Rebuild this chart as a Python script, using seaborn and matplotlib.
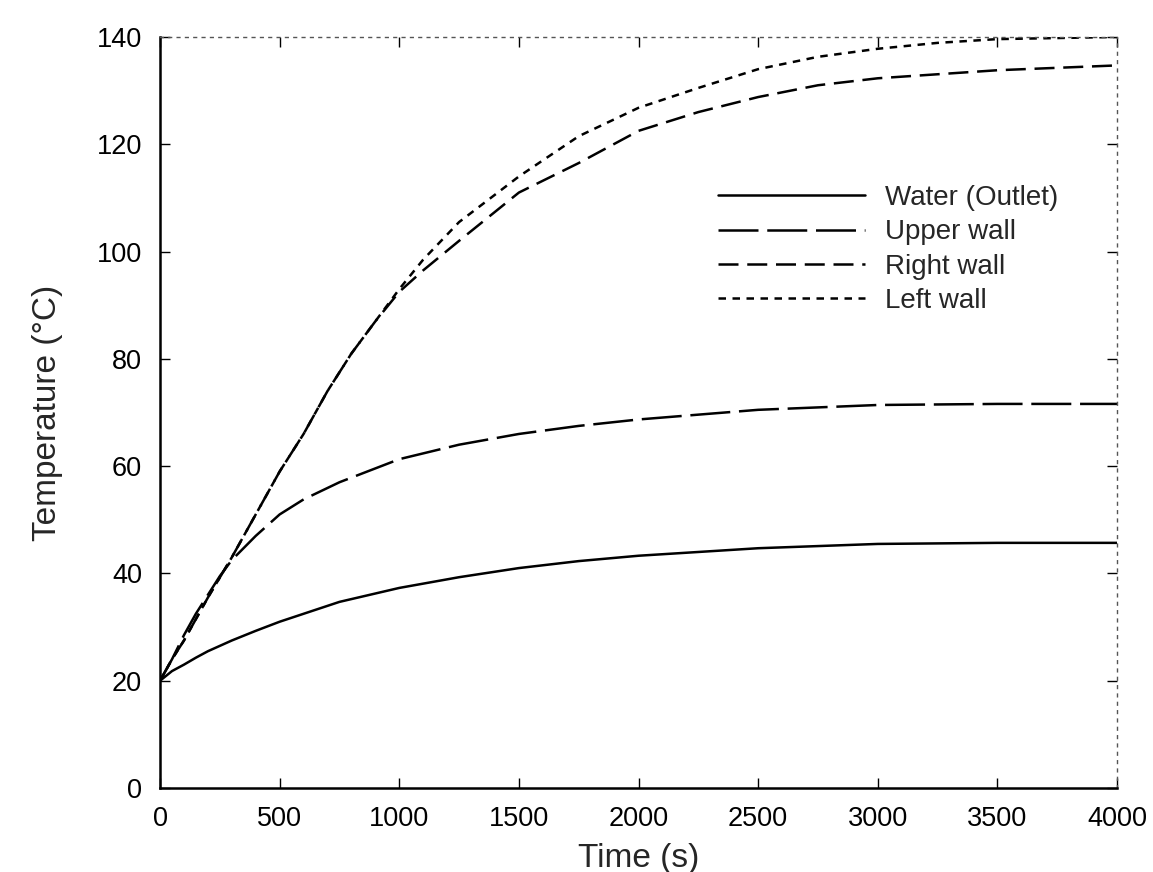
import numpy as np
import pandas as pd
import matplotlib
matplotlib.use("Agg")
import matplotlib.pyplot as plt
import seaborn as sns

sns.set_style("ticks")
plt.rcParams['font.family'] = ['Liberation Sans', 'DejaVu Sans']

# ---- data ----
t_water = [0, 50, 100, 150, 200, 300, 400, 500, 750, 1000, 1250, 1500, 1750, 2000, 2500, 3000, 3500, 4000]
T_water = [20, 21.8, 23, 24.3, 25.5, 27.5, 29.3, 31, 34.7, 37.3, 39.3, 41, 42.3, 43.3, 44.7, 45.5, 45.7, 45.7]

t_upper = [0, 50, 100, 150, 200, 250, 300, 400, 500, 600, 750, 1000, 1250, 1500, 1750, 2000, 2500, 3000, 3500, 4000]
T_upper = [20, 24, 28.5, 32.5, 36, 39.5, 42.5, 47, 51, 53.8, 57, 61.3, 64, 66, 67.5, 68.7, 70.5, 71.4, 71.6, 71.6]

t_right = [0, 50, 100, 150, 200, 300, 400, 500, 600, 700, 800, 900, 1000, 1100, 1250, 1500, 1750, 2000, 2250, 2500, 2750, 3000, 3500, 4000]
T_right = [20, 24, 27.5, 31.5, 35.5, 43, 51, 59, 66, 74, 81, 87, 92.5, 96.5, 102, 111, 116.5, 122.5, 126, 128.8, 131, 132.3, 133.8, 134.7]

t_left = [0, 50, 100, 150, 200, 300, 400, 500, 600, 700, 800, 900, 1000, 1100, 1250, 1500, 1750, 2000, 2250, 2500, 2750, 3000, 3250, 3500, 4000]
T_left = [20, 24, 27.5, 31.5, 35.5, 43, 51, 59, 66, 74, 81, 87, 93, 98.5, 105.5, 114, 121.5, 126.8, 130.5, 134, 136.3, 137.8, 138.9, 139.6, 140]

labels = ["Water (Outlet)", "Upper wall", "Right wall", "Left wall"]
x_ticks = [0, 500, 1000, 1500, 2000, 2500, 3000, 3500, 4000]
y_ticks = [0, 20, 40, 60, 80, 100, 120, 140]

series = [(t_water, T_water), (t_upper, T_upper), (t_right, T_right), (t_left, T_left)]
dash_styles = [None, (16, 3.5), (8, 3.5), (3, 2.6)]

fig = plt.figure(figsize=(11.53, 8.72), dpi=100)
ax = fig.add_axes([0.1388, 0.0963, 0.8300, 0.8613])

for (tx, ty), lab, ds in zip(series, labels, dash_styles):
    df = pd.DataFrame({"Time": tx, "Temp": ty})
    kw = {}
    if ds is not None:
        kw["dashes"] = ds
    sns.lineplot(data=df, x="Time", y="Temp", ax=ax, color="black", linewidth=1.8,
                 label=lab, legend=False, **kw)

ax.set_xlim(0, 4000)
ax.set_ylim(0, 140)
ax.set_xticks(x_ticks)
ax.set_yticks(y_ticks)
ax.tick_params(direction="in", length=7, width=1, labelsize=19.5, colors="black",
               top=True, right=True)
ax.tick_params(axis="x", pad=13)
ax.tick_params(axis="y", pad=13)
ax.set_xlabel("Time (s)", fontsize=24, labelpad=8)
ax.set_ylabel("Temperature (°C)", fontsize=24, labelpad=24)

for side in ["left", "bottom"]:
    ax.spines[side].set_linewidth(1.8)
    ax.spines[side].set_color("black")
for side in ["top", "right"]:
    ax.spines[side].set_linewidth(1.0)
    ax.spines[side].set_linestyle((0, (2, 4)))
    ax.spines[side].set_color("#555555")

leg = ax.legend(handles=ax.lines, labels=labels, loc="upper left",
                bbox_to_anchor=(0.583, 0.803), frameon=False, fontsize=20,
                handlelength=5.3, handletextpad=0.72, labelspacing=0.3,
                borderaxespad=0, borderpad=0)

fig.savefig("out.png", dpi=100, facecolor="white")
